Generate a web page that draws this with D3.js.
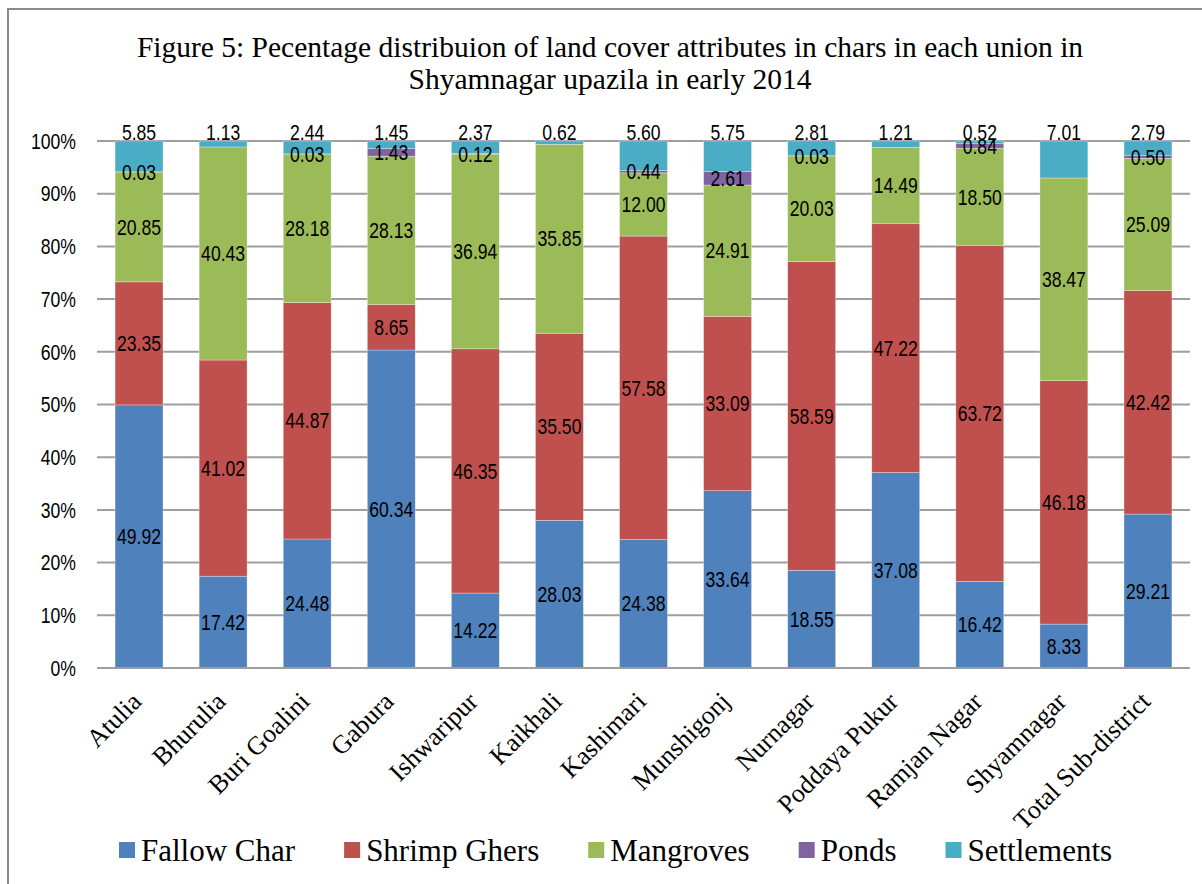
<!DOCTYPE html>
<html>
<head>
<meta charset="utf-8">
<script src="https://cdn.jsdelivr.net/npm/d3@7"></script>
<style>
  body { margin: 0; background: #fff; }
  .num { font-family: "Liberation Sans Narrow", "Arial Narrow", "Liberation Sans", Arial, sans-serif; }
  .serif { font-family: "Liberation Serif", "Times New Roman", serif; }
</style>
</head>
<body>
<div id="chart"></div>
<script>
// data
var unions = ["Atulia", "Bhurulia", "Buri Goalini", "Gabura", "Ishwaripur", "Kaikhali", "Kashimari",
              "Munshigonj", "Nurnagar", "Poddaya Pukur", "Ramjan Nagar", "Shyamnagar", "Total Sub-district"];
var seriesNames = ["Fallow Char", "Shrimp Ghers", "Mangroves", "Ponds", "Settlements"];
var fallowChar  = [49.92, 17.42, 24.48, 60.34, 14.22, 28.03, 24.38, 33.64, 18.55, 37.08, 16.42, 8.33, 29.21];
var shrimpGhers = [23.35, 41.02, 44.87, 8.65, 46.35, 35.50, 57.58, 33.09, 58.59, 47.22, 63.72, 46.18, 42.42];
var mangroves   = [20.85, 40.43, 28.18, 28.13, 36.94, 35.85, 12.00, 24.91, 20.03, 14.49, 18.50, 38.47, 25.09];
var ponds       = [0.03, 0, 0.03, 1.43, 0.12, 0, 0.44, 2.61, 0.03, 0, 0.84, 0, 0.50];
var settlements = [5.85, 1.13, 2.44, 1.45, 2.37, 0.62, 5.60, 5.75, 2.81, 1.21, 0.52, 7.01, 2.79];
var yTicks = [0, 10, 20, 30, 40, 50, 60, 70, 80, 90, 100];
var colors = ["#4F81BD", "#C0504D", "#9BBB59", "#8064A2", "#4BACC6"];

var svgWidth = 1202, svgHeight = 884;
var margin = {top: 141, left: 97, right: 12, bottom: 216};
var chartWidth = svgWidth - margin.left - margin.right;
var chartHeight = svgHeight - margin.top - margin.bottom;
var narrow = 0.8;   // horizontal squeeze to imitate Arial Narrow

var svg = d3.select('#chart').append('svg')
    .attr('width', svgWidth)
    .attr('height', svgHeight);

// outer frame
svg.append('rect')
    .attr('x', 8).attr('y', 9)
    .attr('width', 1300).attr('height', 1000)
    .attr('fill', 'none')
    .attr('stroke', '#8a8a8a')
    .attr('stroke-width', 2);

// title
var title = svg.append('text')
    .attr('class', 'serif')
    .attr('text-anchor', 'middle')
    .style('font-size', '29.5px')
    .attr('fill', '#000');
title.append('tspan').attr('x', 610).attr('y', 57)
    .text("Figure 5: Pecentage distribuion of land cover attributes in chars in each union in");
title.append('tspan').attr('x', 610).attr('y', 89)
    .text("Shyamnagar upazila in early 2014");

var chart = svg.append('g').attr('transform', `translate(${margin.left}, ${margin.top})`);

var rows = unions.map((u, i) => ({
    union: u,
    "Fallow Char": fallowChar[i],
    "Shrimp Ghers": shrimpGhers[i],
    "Mangroves": mangroves[i],
    "Ponds": ponds[i],
    "Settlements": settlements[i]
}));

var x = d3.scaleBand().domain(unions).range([0, chartWidth]).paddingInner(0.43).paddingOuter(0.215);
var y = d3.scaleLinear().domain([0, 100]).range([chartHeight, 0]);
var color = d3.scaleOrdinal().domain(seriesNames).range(colors);

// gridlines
chart.append('g')
    .selectAll('line')
    .data(yTicks)
    .enter()
    .append('line')
    .attr('x1', 0).attr('x2', chartWidth)
    .attr('y1', d => y(d)).attr('y2', d => y(d))
    .attr('stroke', '#9e9e9e')
    .attr('stroke-width', 2);

// y axis labels
chart.append('g')
    .selectAll('text')
    .data(yTicks)
    .enter()
    .append('text')
    .attr('class', 'num')
    .attr('transform', d => `translate(-21, ${y(d)}) scale(${narrow}, 1)`)
    .attr('dy', '0.35em')
    .attr('text-anchor', 'end')
    .style('font-size', '22px')
    .attr('fill', '#000')
    .text(d => d + '%');

// stacks
var stack = d3.stack().keys(seriesNames);
var layers = stack(rows);

var layerG = chart.selectAll('g.layer')
    .data(layers)
    .enter()
    .append('g')
    .attr('class', 'layer')
    .attr('fill', d => color(d.key));

layerG.selectAll('rect')
    .data(d => d)
    .enter()
    .append('rect')
    .attr('x', d => x(d.data.union))
    .attr('width', x.bandwidth())
    .attr('y', d => y(d[1]))
    .attr('height', d => y(d[0]) - y(d[1]))
    .attr('stroke', 'rgba(255,255,255,0.5)')
    .attr('stroke-width', 0.6);

// value labels
layers.forEach(layer => {
    layer.forEach(d => {
        var v = d[1] - d[0];
        var key = layer.key;
        if (v <= 0) return;
        var cy;
        if (key === "Settlements") cy = y(d[1]) - 9;
        else cy = (y(d[0]) + y(d[1])) / 2;
        chart.append('text')
            .attr('class', 'num')
            .attr('transform', `translate(${x(d.data.union) + x.bandwidth() / 2}, ${cy}) scale(${narrow}, 1)`)
            .attr('dy', '0.35em')
            .attr('text-anchor', 'middle')
            .style('font-size', '22px')
            .attr('fill', '#000')
            .text(d.data[key].toFixed(2));
    });
});

// x axis line
chart.append('line')
    .attr('x1', 0).attr('x2', chartWidth)
    .attr('y1', chartHeight).attr('y2', chartHeight)
    .attr('stroke', '#9e9e9e')
    .attr('stroke-width', 2);

// category labels
chart.selectAll('text.cat')
    .data(unions)
    .enter()
    .append('text')
    .attr('class', 'cat serif')
    .attr('text-anchor', 'end')
    .attr('transform', d => `translate(${x(d) + x.bandwidth() / 2 + 4}, ${chartHeight + 35}) rotate(-45)`)
    .style('font-size', '26px')
    .attr('fill', '#000')
    .text(d => d);

// legend
var legend = svg.append('g').attr('transform', 'translate(119, 850)');
var lx = 0;
seriesNames.forEach(name => {
    var item = legend.append('g').attr('transform', `translate(${lx}, 0)`);
    item.append('rect')
        .attr('x', 0).attr('y', -8)
        .attr('width', 16).attr('height', 16)
        .attr('fill', color(name));
    var t = item.append('text')
        .attr('class', 'serif')
        .attr('x', 22)
        .attr('y', 0)
        .attr('dy', '0.35em')
        .style('font-size', '31px')
        .attr('fill', '#000')
        .text(name);
    lx += 22 + t.node().getComputedTextLength() + 49;
});
</script>
</body>
</html>
